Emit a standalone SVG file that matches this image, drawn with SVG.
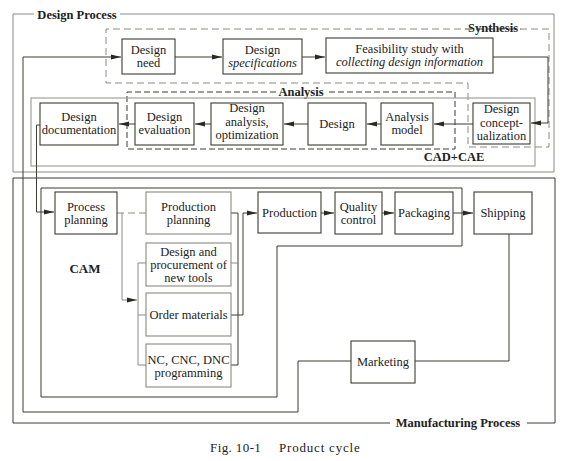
<svg xmlns="http://www.w3.org/2000/svg" width="566" height="461" viewBox="0 0 566 461">
<style>
text{font-family:"Liberation Serif","Times New Roman",serif;fill:#222;font-size:12.5px;text-anchor:middle}
.b{font-weight:bold}
.i{font-style:italic}
.box{fill:#fff;stroke:#3d3d33;stroke-width:1.1}
.lbox{fill:#fff;stroke:#8a8a80;stroke-width:1.1}
.ln{fill:none;stroke:#3d3d33;stroke-width:1}
.lt{fill:none;stroke:#8a8a84;stroke-width:1}
.dash{fill:none;stroke:#8a8a84;stroke-width:1;stroke-dasharray:7,4}
.dashd{fill:none;stroke:#3d3d33;stroke-width:1;stroke-dasharray:6,3}
</style>
<defs>
<marker id="ah" viewBox="0 0 10 6" refX="10" refY="3" markerWidth="10" markerHeight="6" orient="auto" markerUnits="userSpaceOnUse"><path d="M0,0.5 L10,3 L0,5.5 z" fill="#2a2a22"/></marker>
</defs>
<rect width="566" height="461" fill="#fff"/>

<g id="frames">
<!-- Design Process frame -->
<path class="lt" d="M34,14 H13 V172 H554 V14 H120"/>
<text class="b" x="77" y="19">Design Process</text>
<!-- Synthesis region -->
<path class="dash" d="M465,29 H549 V147 H468 V83 H106 V29 H521"/>
<text class="b" x="493" y="32">Synthesis</text>
<!-- Analysis region -->
<path class="dashd" d="M276,92 H127 V149 H455 V92 H327"/>
<text class="b" x="301" y="96">Analysis</text>
<!-- CAD+CAE -->
<rect x="31" y="98" width="504" height="68" fill="none" stroke="#9a9a92" stroke-width="1.1"/>
<text class="b" x="454" y="161">CAD+CAE</text>
<!-- Manufacturing frame -->
<path class="ln" d="M390,423 H13 V178 H555 V423 H527"/>
<text class="b" x="458" y="427">Manufacturing Process</text>
<!-- CAM region -->
<path class="ln" d="M41,188 H462 V246 H277 V397 H41 Z" stroke="#55554c"/>
<text class="b" x="85" y="273" style="font-size:13px">CAM</text>
</g>

<g id="connectors">
<path class="ln" d="M351,361 H298 V412 H23 V57 H121" marker-end="url(#ah)"/>
<path class="ln" d="M509,234 V361 H415"/>
<path class="ln" d="M175,57 H222" marker-end="url(#ah)"/>
<path class="ln" d="M302,57 H325" marker-end="url(#ah)"/>
<path class="ln" d="M493,57 H548 V123 H531" marker-end="url(#ah)"/>
<path class="ln" d="M473,124 H434" marker-end="url(#ah)"/>
<path class="ln" d="M381,124 H367" marker-end="url(#ah)"/>
<path class="ln" d="M308,124 H284" marker-end="url(#ah)"/>
<path class="ln" d="M211,124 H195" marker-end="url(#ah)"/>
<path class="ln" d="M135,124 H119" marker-end="url(#ah)"/>
<path class="ln" d="M40,125 H36.5 V212 H54" marker-end="url(#ah)"/>
<path class="dash" d="M117,213 H146" stroke-dasharray="5,14,9"/>
<path class="lt" d="M122,213 V300 H137" marker-end="url(#ah)"/>
<path class="lt" d="M146,263 H138 V365 H146 M138,315 H146"/>
<path class="ln" d="M231,213 H238 V365 H231 M231,315 H243 V213 H257" marker-end="url(#ah)"/>
<path class="lt" d="M231,263 H238"/>
<path class="ln" d="M321,213 H334" marker-end="url(#ah)"/>
<path class="ln" d="M382,213 H394" marker-end="url(#ah)"/>
<path class="ln" d="M453,213 H473" marker-end="url(#ah)"/>
</g>

<g id="design-need"><rect class="box" x="122" y="39" width="53" height="35"/><text x="148.5" y="54">Design</text><text x="148.5" y="67">need</text></g>
<g id="design-specifications"><rect class="box" x="223" y="39" width="79" height="35"/><text x="262.5" y="54">Design</text><text class="i" x="262.5" y="67">specifications</text></g>
<g id="feasibility-study"><rect class="box" x="326" y="38" width="167" height="35"/><text x="409.5" y="53">Feasibility study with</text><text class="i" x="409.5" y="66">collecting design information</text></g>

<g id="design-documentation"><rect class="box" x="40" y="103" width="78" height="42"/><text x="79" y="121">Design</text><text x="79" y="134">documentation</text></g>
<g id="design-evaluation"><rect class="box" x="135" y="103" width="59" height="42"/><text x="164.5" y="121">Design</text><text x="164.5" y="134">evaluation</text></g>
<g id="design-analysis"><rect class="box" x="211" y="103" width="72" height="42"/><text x="247" y="112">Design</text><text x="247" y="125.5">analysis,</text><text x="247" y="139">optimization</text></g>
<g id="design"><rect class="box" x="308" y="103" width="58" height="42"/><text x="337" y="128">Design</text></g>
<g id="analysis-model"><rect class="box" x="381" y="103" width="52" height="42"/><text x="407" y="121">Analysis</text><text x="407" y="134">model</text></g>
<g id="design-conceptualization"><rect class="box" x="473" y="103" width="57" height="41"/><text x="501.5" y="113">Design</text><text x="501.5" y="127">concept-</text><text x="501.5" y="140">ualization</text></g>

<g id="process-planning"><rect class="box" x="55" y="192" width="62" height="42"/><text x="86" y="211">Process</text><text x="86" y="224">planning</text></g>
<g id="production-planning"><rect class="lbox" x="146" y="192" width="85" height="42"/><text x="188.5" y="211">Production</text><text x="188.5" y="224">planning</text></g>
<g id="design-procurement"><rect class="lbox" x="146" y="243" width="85" height="43"/><text x="188.5" y="256">Design and</text><text x="188.5" y="269">procurement of</text><text x="188.5" y="282">new tools</text></g>
<g id="order-materials"><rect class="lbox" x="146" y="293" width="85" height="43"/><text x="188.5" y="318.5">Order materials</text></g>
<g id="nc-programming"><rect class="lbox" x="146" y="344" width="85" height="43"/><text x="188.5" y="363.5">NC, CNC, DNC</text><text x="188.5" y="376.5">programming</text></g>
<g id="production"><rect class="box" x="258" y="192" width="63" height="41"/><text x="289.5" y="217">Production</text></g>
<g id="quality-control"><rect class="box" x="335" y="192" width="47" height="42"/><text x="358.5" y="211">Quality</text><text x="358.5" y="224">control</text></g>
<g id="packaging"><rect class="box" x="395" y="192" width="58" height="42"/><text x="424" y="217">Packaging</text></g>
<g id="shipping"><rect class="box" x="474" y="192" width="58" height="42"/><text x="503" y="217">Shipping</text></g>
<g id="marketing"><rect class="box" x="351" y="341" width="64" height="42"/><text x="383" y="366">Marketing</text></g>

<text x="210" y="452" style="text-anchor:start;font-size:13px;letter-spacing:0.4px">Fig. 10-1</text>
<text x="279" y="452" style="text-anchor:start;font-size:13px;letter-spacing:0.8px">Product cycle</text>
</svg>
